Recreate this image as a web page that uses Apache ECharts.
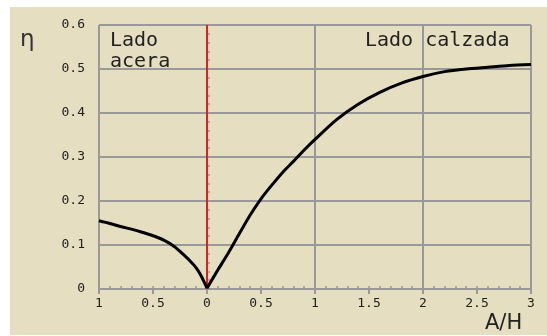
<!DOCTYPE html>
<html>
<head>
<meta charset="utf-8">
<script src="https://cdn.jsdelivr.net/npm/echarts@6/dist/echarts.min.js"></script>
<style>html,body{margin:0;padding:0;background:#fff;}#c{width:547px;height:336px;}</style>
</head>
<body>
<div id="c"></div>
<script>
// Data
var xLeft  = [-1, -0.9, -0.8, -0.7, -0.6, -0.5, -0.4, -0.3, -0.2, -0.15, -0.1, -0.05, 0];
var yLeft  = [0.155, 0.149, 0.142, 0.136, 0.129, 0.121, 0.111, 0.096, 0.074, 0.062, 0.048, 0.028, 0.002];
var xRight = [0, 0.1, 0.2, 0.3, 0.4, 0.5, 0.6, 0.7, 0.8, 0.9, 1.0, 1.2, 1.4, 1.6, 1.8, 2.0, 2.2, 2.4, 2.6, 2.8, 3.0];
var yRight = [0.002, 0.043, 0.083, 0.126, 0.168, 0.205, 0.236, 0.265, 0.290, 0.316, 0.340, 0.385, 0.420, 0.447, 0.468, 0.483, 0.494, 0.500, 0.504, 0.508, 0.510];
var xTickStep = 0.5;
var yTickStep = 0.1;
var yLabel = "\u03b7";
var xLabel = "A/H";
var leftNote = ["Lado", "acera"];
var rightNote = "Lado calzada";

function pairs(xs, ys) {
  var out = [];
  for (var i = 0; i < xs.length; i++) out.push([xs[i], ys[i]]);
  return out;
}

var gridCol = '#999999';
var txtCol = '#222222';
var monoFont = '"DejaVu Sans Mono", monospace';

var chart = echarts.init(document.getElementById('c'));
chart.setOption({
  backgroundColor: '#ffffff',
  animation: false,
  grid: {left: 99, right: 16, top: 25, bottom: 47},
  graphic: [
    {type: 'rect', z: -10, shape: {x: 10, y: 7, width: 537, height: 328}, style: {fill: '#e6dec0'}},
    {type: 'text', x: 20, y: 29, style: {text: yLabel, font: '23px "DejaVu Sans"', fill: '#333'}},
    {type: 'text', x: 110, y: 31, style: {text: leftNote[0], font: '20px ' + monoFont, fill: txtCol}},
    {type: 'text', x: 110, y: 52, style: {text: leftNote[1], font: '20px ' + monoFont, fill: txtCol}},
    {type: 'text', x: 365, y: 31, style: {text: rightNote, font: '20px ' + monoFont, fill: txtCol}},
    {type: 'text', x: 485, y: 313, style: {text: xLabel, font: '21px "DejaVu Sans"', fill: txtCol}}
  ],
  xAxis: [
    {
      type: 'value', min: -1, max: 3, interval: xTickStep,
      axisLine: {show: true, lineStyle: {color: gridCol, width: 2}},
      axisTick: {show: true, length: 5, lineStyle: {color: gridCol, width: 2}},
      axisLabel: {margin: 8, color: txtCol, fontFamily: monoFont, fontSize: 13,
        formatter: function (v) { return String(Math.abs(Math.round(v * 10) / 10)); }},
      splitLine: {show: false}
    },
    {
      type: 'value', min: -1, max: 3, interval: 1, position: 'bottom',
      axisLine: {show: false},
      axisTick: {show: false, inside: true},
      minorTick: {show: true, splitNumber: 10, length: 3, lineStyle: {color: gridCol, width: 1.5}},
      axisLabel: {show: false},
      splitLine: {show: true, lineStyle: {color: gridCol, width: 2}}
    }
  ],
  yAxis: [
    {
      type: 'value', min: 0, max: 0.6, interval: yTickStep,
      axisLine: {show: true, lineStyle: {color: gridCol, width: 2}},
      axisTick: {show: true, length: 12, lineStyle: {color: gridCol, width: 2}},
      axisLabel: {margin: 14, color: txtCol, fontFamily: monoFont, fontSize: 13,
        formatter: function (v) { return String(Math.round(v * 10) / 10); }},
      splitLine: {show: true, lineStyle: {color: gridCol, width: 2}}
    },
    {
      type: 'value', min: 0, max: 0.6, interval: yTickStep, position: 'left',
      axisLine: {show: false},
      axisTick: {show: false, inside: true},
      minorTick: {show: true, splitNumber: 5, length: 3, lineStyle: {color: gridCol, width: 1.5}},
      axisLabel: {show: false},
      splitLine: {show: false}
    }
  ],
  series: [
    {
      type: 'line', xAxisIndex: 0, yAxisIndex: 0, data: pairs(xLeft, yLeft), showSymbol: false,
      smooth: 0.25,
      lineStyle: {color: '#000', width: 3}, z: 5,
      markLine: {
        silent: true, symbol: ['none', 'none'], label: {show: false},
        lineStyle: {color: '#dd1f1f', width: 2, type: 'solid'},
        data: [{xAxis: 0}]
      }
    },
    {
      type: 'line', xAxisIndex: 0, yAxisIndex: 0, data: pairs(xRight, yRight), showSymbol: false,
      smooth: 0.25,
      lineStyle: {color: '#000', width: 3}, z: 5
    }
  ]
});
</script>
</body>
</html>
